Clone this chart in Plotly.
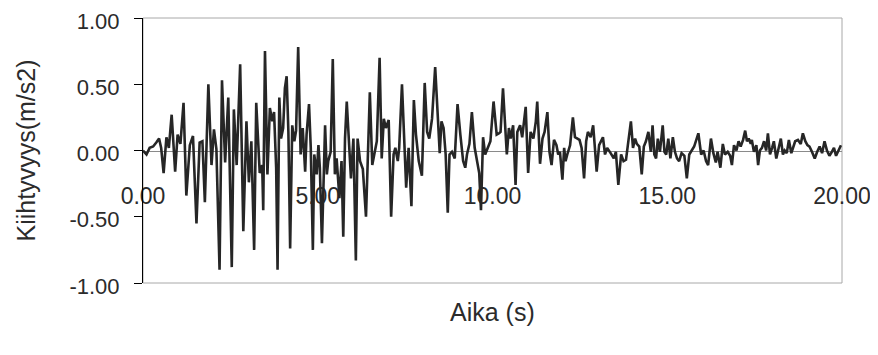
import plotly.graph_objects as go

# Time (s) and acceleration (m/s2)
time_s = [
    0.00, 0.10, 0.19, 0.29, 0.38, 0.46, 0.52, 0.59, 0.67, 0.74, 0.82, 0.92, 0.99, 1.07,
    1.16, 1.24, 1.34, 1.43, 1.53, 1.62, 1.70, 1.77, 1.87, 1.96, 2.03, 2.10, 2.19, 2.26,
    2.35, 2.44, 2.54, 2.60, 2.68, 2.78, 2.87, 2.96, 3.03, 3.10, 3.18, 3.24, 3.34, 3.41,
    3.44, 3.49, 3.56, 3.63, 3.70, 3.75, 3.81, 3.85, 3.90, 3.95, 4.01, 4.06, 4.11, 4.16,
    4.21, 4.27, 4.33, 4.38, 4.44, 4.51, 4.57, 4.64, 4.68, 4.75, 4.80, 4.86, 4.90, 4.97,
    5.02, 5.06, 5.12, 5.16, 5.21, 5.26, 5.30, 5.37, 5.43, 5.49, 5.54, 5.62, 5.68, 5.73,
    5.78, 5.83, 5.89, 5.95, 6.02, 6.09, 6.14, 6.21, 6.29, 6.38, 6.43, 6.49, 6.56, 6.62,
    6.69, 6.77, 6.83, 6.89, 6.95, 7.03, 7.10, 7.17, 7.22, 7.29, 7.33, 7.41, 7.48, 7.53,
    7.60, 7.68, 7.75, 7.81, 7.89, 7.98, 8.06, 8.13, 8.19, 8.27, 8.36, 8.44, 8.49, 8.54,
    8.60, 8.66, 8.72, 8.77, 8.84, 8.92, 9.00, 9.08, 9.16, 9.22, 9.27, 9.34, 9.41, 9.49,
    9.56, 9.62, 9.67, 9.73, 9.79, 9.86, 9.94, 10.03, 10.12, 10.19, 10.23, 10.30, 10.36,
    10.41, 10.47, 10.52, 10.59, 10.66, 10.71, 10.79, 10.85, 10.95, 11.02, 11.09, 11.17,
    11.24, 11.28, 11.36, 11.43, 11.49, 11.57, 11.63, 11.69, 11.76, 11.83, 11.88, 11.93,
    12.00, 12.05, 12.09, 12.14, 12.22, 12.30, 12.36, 12.43, 12.49, 12.55, 12.62, 12.68,
    12.73, 12.81, 12.88, 12.93, 12.98, 13.05, 13.10, 13.16, 13.22, 13.28, 13.38, 13.47,
    13.53, 13.60, 13.68, 13.75, 13.82, 13.89, 13.96, 14.02, 14.08, 14.13, 14.20, 14.27,
    14.33, 14.39, 14.46, 14.53, 14.58, 14.63, 14.68, 14.73, 14.79, 14.87, 14.92, 14.97,
    15.03, 15.09, 15.16, 15.22, 15.28, 15.34, 15.41, 15.49, 15.56, 15.63, 15.70, 15.77,
    15.89, 15.97, 16.04, 16.11, 16.17, 16.25, 16.32, 16.39, 16.44, 16.52, 16.59, 16.65,
    16.73, 16.80, 16.85, 16.91, 16.98, 17.04, 17.10, 17.17, 17.23, 17.28, 17.33, 17.39,
    17.42, 17.48, 17.55, 17.60, 17.65, 17.71, 17.77, 17.83, 17.88, 17.94, 18.00, 18.05,
    18.12, 18.17, 18.25, 18.31, 18.36, 18.42, 18.48, 18.55, 18.61, 18.66, 18.74, 18.82,
    18.88, 18.95, 19.01, 19.07, 19.14, 19.22, 19.29, 19.36, 19.43, 19.50, 19.57, 19.64,
    19.71, 19.77, 19.83, 19.91, 19.97,
]

accel = [
    0.00, -0.03, 0.02, 0.03, 0.06, 0.09, 0.02, -0.17, 0.10, 0.02, 0.27, -0.16, 0.12, 0.05,
    0.36, -0.34, 0.04, 0.11, -0.55, 0.06, 0.07, -0.39, 0.50, -0.11, 0.16, 0.01, -0.90, 0.53,
    -0.09, 0.40, -0.88, 0.31, -0.11, 0.65, -0.61, 0.22, -0.24, 0.07, -0.75, 0.36, -0.17, -0.11,
    -0.45, 0.75, -0.18, 0.32, 0.22, 0.29, -0.13, -0.90, 0.40, 0.09, 0.17, 0.47, 0.56, 0.14,
    -0.74, 0.19, 0.07, 0.15, 0.78, -0.03, 0.17, -0.16, 0.12, 0.35, 0.02, -0.75, -0.03, -0.18,
    0.04, -0.13, -0.70, -0.21, 0.19, -0.18, -0.08, -0.01, 0.69, -0.18, -0.06, -0.36, -0.08, -0.65,
    0.09, 0.37, 0.07, -0.21, 0.09, -0.83, 0.09, -0.08, -0.14, -0.50, -0.08, 0.44, -0.11, -0.03,
    0.07, 0.70, -0.06, 0.24, 0.17, 0.23, -0.50, -0.03, 0.02, -0.08, 0.02, 0.50, 0.07, -0.28,
    0.02, -0.42, 0.38, 0.12, -0.08, -0.19, 0.51, 0.14, 0.09, 0.24, 0.63, 0.19, -0.02, 0.22,
    0.17, -0.03, -0.47, -0.03, -0.01, -0.06, 0.35, 0.12, -0.08, -0.13, -0.03, 0.05, 0.29, 0.02,
    -0.08, -0.17, -0.45, 0.10, -0.03, 0.02, 0.07, 0.37, 0.12, 0.13, 0.14, 0.47, 0.22,
    -0.03, 0.17, 0.09, 0.19, -0.26, 0.14, 0.19, 0.10, 0.33, -0.17, 0.14, 0.09,
    0.22, 0.37, -0.10, 0.09, 0.14, 0.29, -0.01, -0.11, 0.08, 0.04, -0.03, -0.01,
    -0.22, 0.02, -0.08, -0.03, 0.04, 0.25, 0.10, 0.09, 0.08, 0.02, -0.21, 0.07,
    0.14, 0.10, 0.19, 0.02, -0.16, 0.04, 0.07, 0.10, -0.03, 0.02, -0.02, -0.06,
    -0.01, -0.26, -0.03, -0.08, -0.07, 0.07, 0.22, 0.02, 0.09, 0.05, 0.03, -0.18,
    0.03, 0.07, 0.14, -0.01, 0.19, -0.03, -0.06, 0.09, -0.01, 0.19, -0.01, -0.03,
    0.09, -0.06, 0.10, -0.01, -0.06, -0.08, -0.02, -0.04, -0.21, -0.03, 0.00, 0.03,
    0.13, -0.03, 0.00, -0.08, -0.11, 0.09, -0.02, -0.09, -0.01, -0.13, 0.05, -0.03,
    -0.01, -0.04, -0.11, 0.04, 0.00, 0.07, 0.03, 0.08, 0.15, 0.07, 0.09, 0.05,
    0.08, -0.01, 0.04, -0.11, 0.00, 0.02, 0.07, 0.00, 0.13, -0.03, 0.02, 0.07,
    -0.06, 0.00, 0.09, -0.03, 0.00, -0.02, 0.08, -0.02, 0.04, 0.07, 0.08, 0.05,
    0.13, 0.07, 0.04, 0.03, -0.01, -0.06, -0.01, 0.03, -0.02, 0.07, 0.00, -0.04,
    -0.01, 0.02, -0.04, 0.00, 0.04,
]

x_ticks = [0, 5, 10, 15, 20]
x_labels = ["0.00", "5.00", "10.00", "15.00", "20.00"]
y_ticks = [-1.0, -0.5, 0.0, 0.5, 1.0]
y_labels = ["-1.00", "-0.50", "0.00", "0.50", "1.00"]

FONT = "Liberation Sans, Arial, sans-serif"
TXT = "#2b2b2b"

fig = go.Figure()
fig.add_trace(go.Scatter(
    x=time_s, y=accel, mode="lines",
    line=dict(color="#262626", width=2.6),
    showlegend=False, hoverinfo="skip",
))

# the page body adds an 8px offset, so margins are shifted to compensate
fig.update_layout(
    width=878, height=355,
    margin=dict(l=135, r=44, t=10, b=80),
    paper_bgcolor="white", plot_bgcolor="white",
    font=dict(family=FONT, size=23, color=TXT),
    xaxis=dict(
        range=[0, 20], tickvals=x_ticks, ticktext=x_labels,
        anchor="free", position=0.5, automargin=False,
        showline=True, linecolor="#8a8a8a", linewidth=1,
        ticks="", showgrid=False, zeroline=False,
        ticklabelstandoff=25, layer="below traces",
        ticklabeloverflow="allow",
        tickfont=dict(size=23, color=TXT),
    ),
    yaxis=dict(
        range=[-1, 1], tickvals=y_ticks, ticktext=y_labels, automargin=False,
        showline=True, linecolor="black", linewidth=1,
        ticks="outside", ticklen=8, tickcolor="black",
        showgrid=False, zeroline=False,
        ticklabelstandoff=10, ticklabelshift=3, ticklabeloverflow="allow",
        tickfont=dict(size=22, color=TXT),
    ),
    shapes=[dict(type="rect", xref="paper", yref="paper", x0=0, y0=0, x1=1, y1=1,
                 line=dict(color="#a8a8a8", width=1), layer="below")],
    annotations=[
        dict(text="Aika (s)", xref="paper", yref="paper", x=(492 - 143) / 699, y=-29 / 265,
             showarrow=False, xanchor="center", yanchor="middle",
             font=dict(size=25, color=TXT, family=FONT)),
        dict(text="Kiihtyvyys(m/s2)", xref="paper", yref="paper", x=(25 - 143) / 699, y=0.5,
             showarrow=False, xanchor="center", yanchor="middle", textangle=-90,
             font=dict(size=25, color=TXT, family=FONT)),
    ],
)

fig.write_html("out.html")
